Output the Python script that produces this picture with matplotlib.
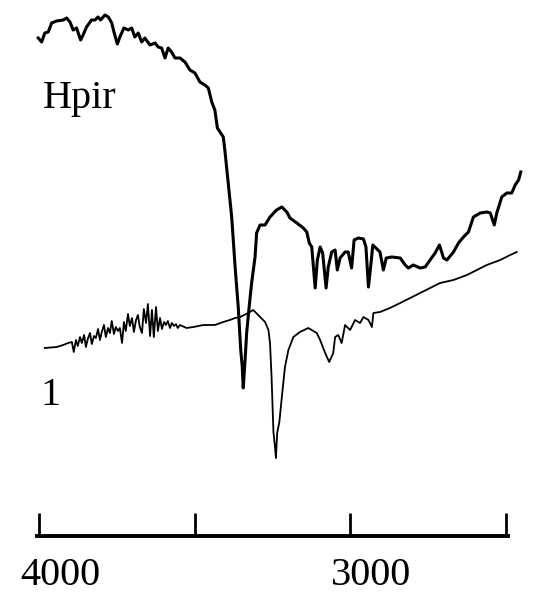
import matplotlib
matplotlib.use('Agg')
import matplotlib.pyplot as plt
import matplotlib.transforms as mtransforms

# IRスペクトル (任意単位)
wn_hpir = [4002, 3991, 3981, 3970, 3959, 3943, 3922, 3911, 3900, 3890, 3879, 3866,
           3858, 3847, 3831, 3820, 3810, 3802, 3788, 3777, 3766, 3759, 3748, 3740,
           3727, 3713, 3702, 3692, 3681, 3670, 3660, 3643, 3627, 3617, 3606, 3595,
           3585, 3574, 3563, 3547, 3531, 3515, 3499, 3483, 3467, 3456, 3445, 3435,
           3427, 3408, 3403, 3392, 3381, 3370, 3360, 3352, 3347, 3344, 3338, 3333,
           3325, 3317, 3306, 3301, 3290, 3274, 3258, 3237, 3220, 3204, 3194, 3172,
           3151, 3140, 3132, 3124, 3113, 3106, 3097, 3089, 3078, 3071, 3060, 3049,
           3042, 3033, 3017, 3007, 2996, 2988, 2974, 2958, 2950, 2942, 2935, 2928,
           2918, 2905, 2894, 2885, 2867, 2840, 2824, 2814, 2798, 2776, 2760, 2744,
           2728, 2714, 2701, 2690, 2669, 2653, 2637, 2621, 2605, 2583, 2562, 2551,
           2538, 2530, 2514, 2498, 2482, 2471, 2460, 2453]
t_hpir = [498, 494, 503, 504, 513, 515, 516, 518, 514, 506, 508, 496,
          501, 509, 516, 516, 519, 516, 521, 519, 513, 504, 492, 499,
          508, 506, 508, 499, 503, 494, 498, 491, 493, 489, 488, 478,
          488, 484, 478, 478, 474, 466, 463, 454, 451, 448, 434, 426,
          408, 399, 386, 353, 319, 269, 229, 186, 169, 148, 176, 203,
          229, 253, 279, 303, 311, 311, 319, 326, 329, 324, 318, 313,
          308, 304, 293, 289, 248, 276, 289, 283, 248, 269, 284, 286,
          266, 278, 284, 284, 268, 296, 298, 297, 289, 249, 269, 291,
          288, 284, 266, 278, 279, 278, 271, 268, 271, 268, 269, 276,
          283, 291, 278, 276, 284, 293, 299, 304, 319, 323, 324, 323,
          311, 323, 339, 343, 343, 351, 356, 364]

wn_1 = [3981, 3943, 3922, 3906,
        3894, 3888, 3881, 3875, 3868, 3862, 3855, 3849, 3843, 3836, 3830, 3823,
        3817, 3810, 3804, 3798, 3791, 3785, 3778, 3772, 3766, 3759, 3753, 3746,
        3740, 3733, 3727, 3721, 3714, 3708, 3701, 3695, 3688, 3682, 3676, 3669,
        3663, 3656, 3650, 3643, 3637, 3631, 3624, 3618, 3611, 3605, 3598, 3592,
        3586, 3579, 3573, 3566, 3560, 3554, 3547, 3526, 3504,
        3472, 3435, 3408, 3387, 3370, 3354, 3328,
        3312, 3296, 3274, 3263, 3258, 3253, 3247, 3242, 3239, 3235, 3228, 3220,
        3210, 3199, 3183, 3162, 3135, 3108, 3097, 3081, 3068, 3055, 3049, 3039,
        3028, 3017, 3001, 2985, 2969, 2958, 2942, 2931, 2926, 2905, 2873, 2840,
        2808, 2776, 2744, 2712, 2669, 2626, 2594, 2562, 2519, 2487, 2466]
t_1 = [188, 189, 191, 193,
       194, 184, 196, 190, 199, 193, 201, 189, 197, 203, 192, 200,
       198, 207, 196, 204, 211, 199, 208, 203, 215, 202, 209, 205,
       208, 193, 214, 205, 222, 210, 218, 204, 216, 221, 209, 203,
       227, 213, 232, 200, 226, 199, 229, 205, 218, 207, 214, 211,
       215, 208, 213, 210, 212, 208, 211, 208, 209,
       211, 211, 214, 216, 218, 219, 223,
       226, 221, 214, 206, 193, 159, 104, 89, 78, 103, 114, 139,
       169, 186, 199, 204, 208, 203, 196, 183, 174, 183, 199, 201,
       193, 211, 206, 216, 213, 219, 216, 209, 223, 224, 228, 233,
       238, 243, 248, 253, 256, 261, 266, 271, 276, 281, 284]

tick_pos = [4000, 3500, 3000, 2500]
tick_labels = ['4000', '', '3000', '']

plt.rcParams['font.family'] = ['Liberation Serif', 'DejaVu Serif']

fig = plt.figure(figsize=(5.4, 6.08), dpi=100)
ax = fig.add_axes([37 / 540, 72 / 608, 471 / 540, 536 / 608])

ax.plot(wn_hpir, t_hpir, color='black', lw=2.2, clip_on=False)
ax.plot(wn_1, t_1, color='black', lw=1.3, clip_on=False)

ax.set_xlim(4006, 2494)
ax.set_ylim(0, 536)

for s in ['top', 'left', 'right']:
    ax.spines[s].set_visible(False)
ax.spines['bottom'].set_linewidth(2.8)
ax.set_yticks([])
ax.set_xticks(tick_pos)
ax.set_xticklabels(tick_labels, fontsize=29)
ax.tick_params(axis='x', direction='in', length=16.5, width=2, pad=15)

# ラベルを右にずらす
offset = mtransforms.ScaledTranslation(0.21, 0, fig.dpi_scale_trans)
for lbl in ax.get_xticklabels():
    lbl.set_transform(lbl.get_transform() + offset)

fig.text(43 / 540, 1 - 108 / 608, 'Hpir', fontsize=29, va='baseline')
fig.text(41 / 540, 1 - 405 / 608, '1', fontsize=29, va='baseline')

fig.savefig('out.png', dpi=100)
